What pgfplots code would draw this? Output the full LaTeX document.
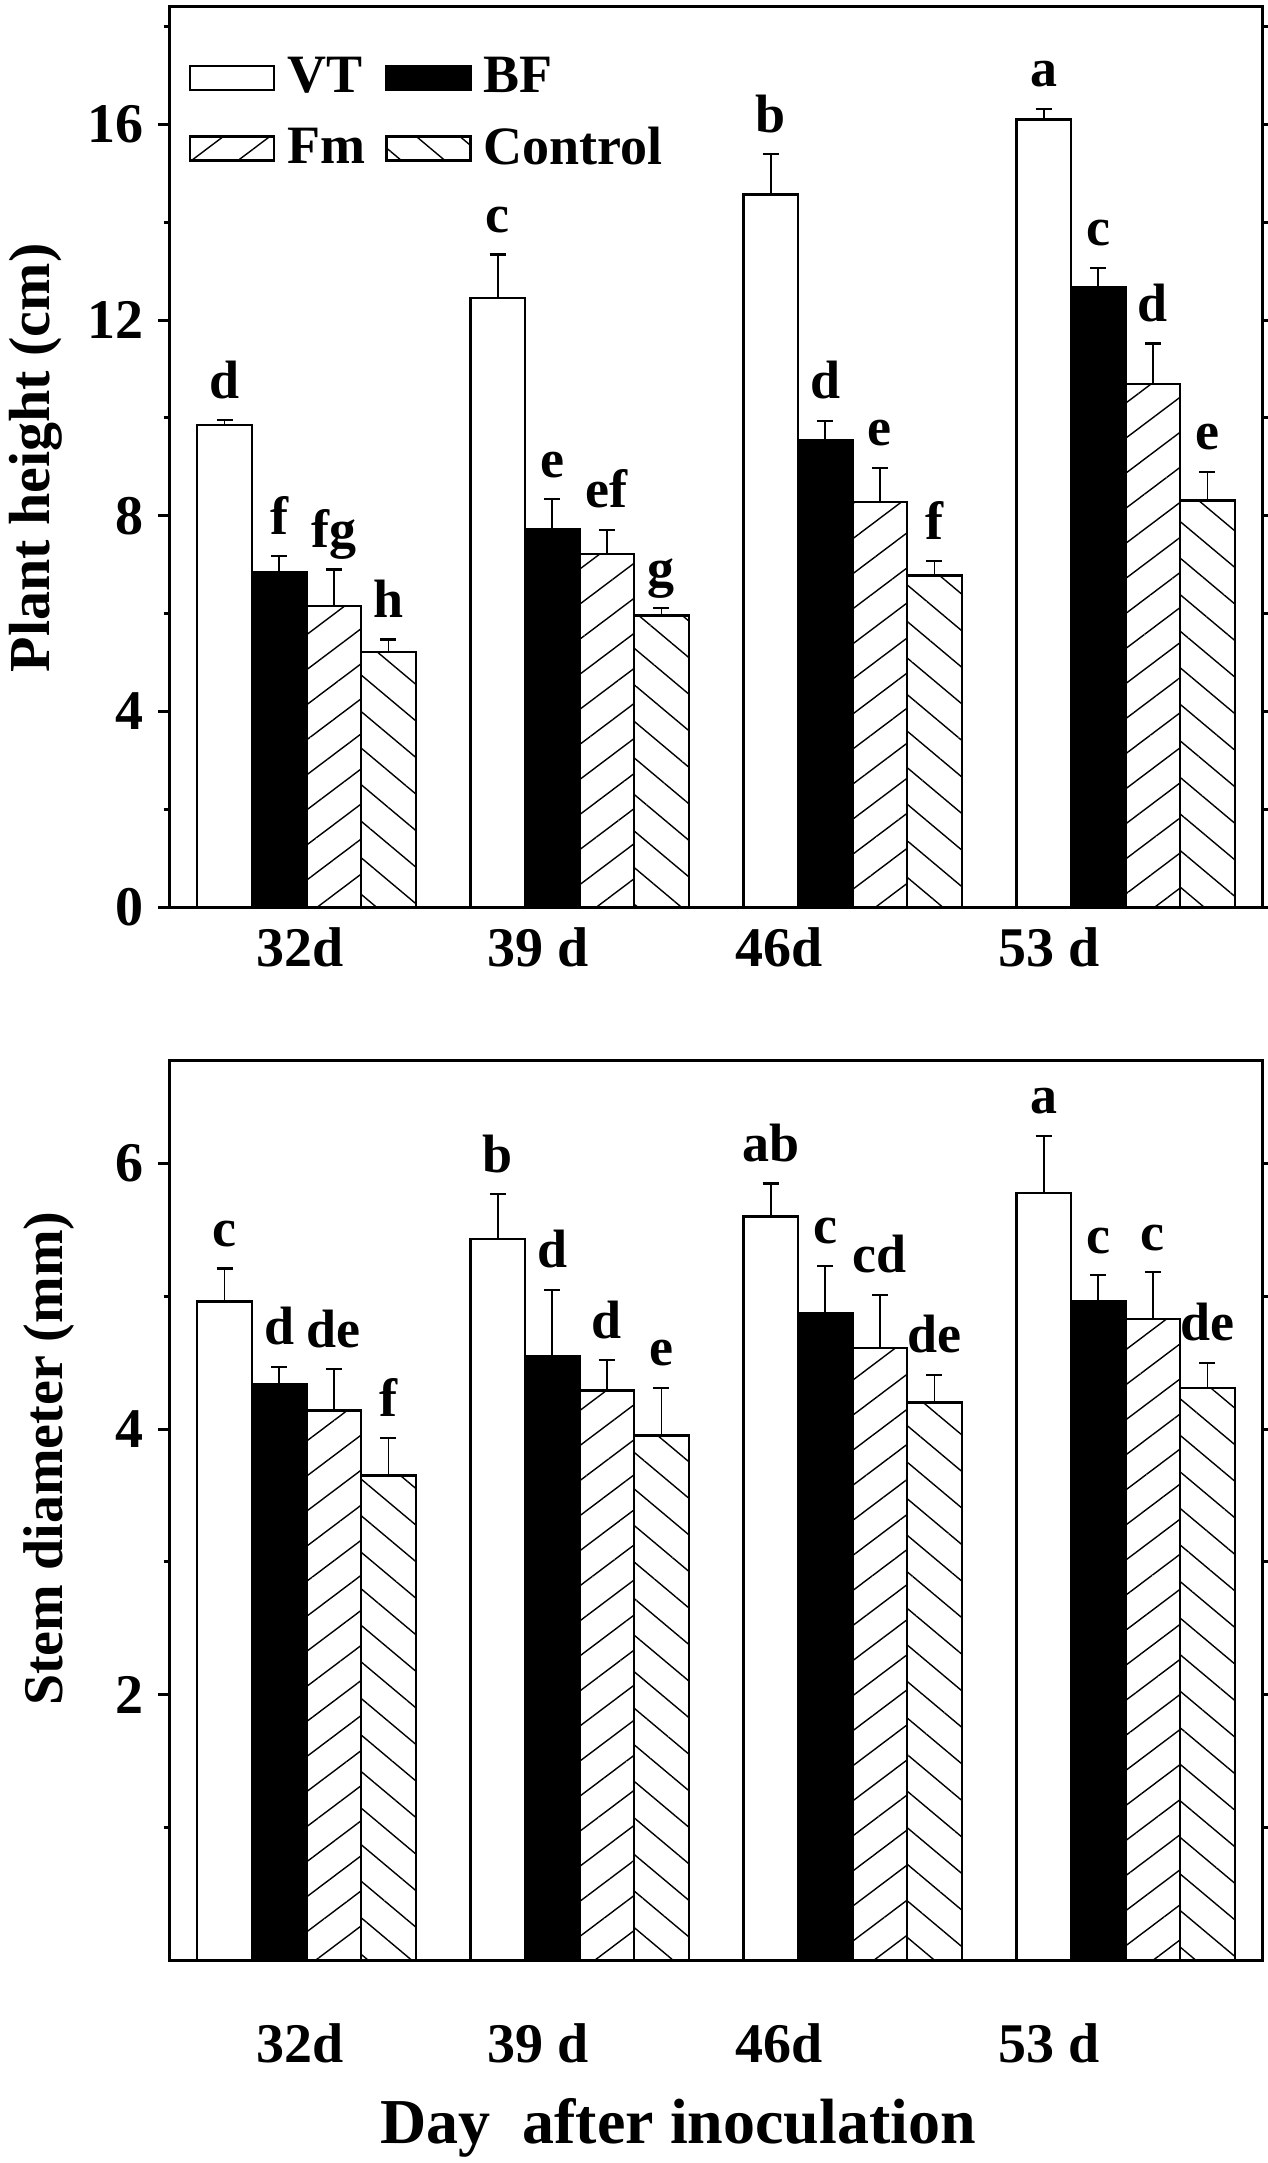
\documentclass[border=0pt]{standalone}
\usepackage{fontspec}
\setmainfont{Liberation Serif}
\usepackage{pgfplots}
\pgfplotsset{compat=1.18}
\usetikzlibrary{patterns.meta}

\tikzset{
  vtsty/.style={fill=white, draw=black, line width=0.6pt},
  bfsty/.style={fill=black, draw=black, line width=0.6pt},
  fmsty/.style={draw=black, line width=0.6pt, pattern={Lines[angle=37,distance=7pt,line width=0.35pt]}},
  ctsty/.style={draw=black, line width=0.6pt, pattern={Lines[angle=-40,distance=7pt,line width=0.35pt]}},
  lab/.style={anchor=base, yshift=5.5pt, inner sep=0pt, font=\fontsize{13.5}{14}\selectfont\bfseries},
}

\pgfplotsset{
  common/.style={
    scale only axis, width=273pt, height=225pt,
    xmin=-0.5, xmax=3.5, ymin=0,
    clip=false,
    ybar=0pt, bar width=0.2,
    axis line style={line width=0.75pt},
    tick style={line width=0.75pt, black},
    tick align=outside,
    major tick length=3pt, minor tick length=1.6pt,
    ytick pos=both, yticklabel pos=left,
    xtick=\empty,
    extra x ticks={-0.024,0.85,1.73,2.72},
    extra x tick labels={32d,39 d,46d,53 d},
    /pgf/number format/assume math mode=true,
    tick label style={font=\fontsize{14}{14}\selectfont\bfseries},
    xlabel style={font=\fontsize{16}{16}\selectfont\bfseries, at={(axis description cs:0.192,-0.2044)}, anchor=base west, inner sep=0pt},
    every axis plot/.append style={
      error bars/y dir=plus, error bars/y explicit,
      error bars/error bar style={line width=0.45pt, black},
      error bars/error mark options={rotate=90, mark size=2pt, line width=0.55pt, black},
    },
  },
}

\begin{document}
\begin{tikzpicture}
\useasboundingbox (-42.5pt,-314pt) rectangle (274.25pt,226.75pt);

% ---------------- Top: plant height ----------------
\begin{axis}[common,
  at={(0pt,0pt)}, anchor=south west,
  ymax=18.4,
  ytick={0,4,8,12,16}, minor ytick={2,6,10,14,18},
  ylabel={Plant height (cm)},
  ylabel style={font=\fontsize{14.5}{14.5}\selectfont\bfseries, at={(axis description cs:-0.1227,0.499)}, anchor=center},
  extra x tick style={major tick length=0pt, xticklabel style={anchor=base, yshift=-14.75pt}},
  legend columns=2,
  legend cell align=left,
  legend image code/.code={\draw[#1] (0pt,-3pt) rectangle (21pt,3pt);},
  legend style={draw=none, fill=none, inner sep=0pt,
    at={(axis description cs:0.0165,0.958)}, anchor=north west,
    font=\fontsize{13.5}{14}\selectfont\bfseries,
    nodes={inner sep=3pt}, row sep=1pt,
    /tikz/every even column/.append style={column sep=2pt}},
]
\addplot[vtsty] coordinates {(0,9.86) +- (0,0.09) (1,12.45) +- (0,0.89) (2,14.57) +- (0,0.82) (3,16.10) +- (0,0.22)};
\addplot[bfsty] coordinates {(0,6.85) +- (0,0.32) (1,7.73) +- (0,0.61) (2,9.54) +- (0,0.40) (3,12.67) +- (0,0.40)};
\addplot[fmsty] coordinates {(0,6.15) +- (0,0.75) (1,7.22) +- (0,0.49) (2,8.28) +- (0,0.70) (3,10.69) +- (0,0.83)};
\addplot[ctsty] coordinates {(0,5.21) +- (0,0.26) (1,5.96) +- (0,0.15) (2,6.78) +- (0,0.29) (3,8.31) +- (0,0.59)};
\legend{VT,BF,Fm,Control}
% letters
\node[lab] at (axis cs:-0.3,9.95) {d};
\node[lab] at (axis cs:-0.1,7.17) {f};
\node[lab] at (axis cs:0.1,6.90) {fg};
\node[lab] at (axis cs:0.3,5.47) {h};
\node[lab] at (axis cs:0.7,13.34) {c};
\node[lab] at (axis cs:0.9,8.34) {e};
\node[lab] at (axis cs:1.1,7.71) {ef};
\node[lab] at (axis cs:1.3,6.11) {g};
\node[lab] at (axis cs:1.7,15.39) {b};
\node[lab] at (axis cs:1.9,9.94) {d};
\node[lab] at (axis cs:2.1,8.98) {e};
\node[lab] at (axis cs:2.3,7.07) {f};
\node[lab] at (axis cs:2.7,16.32) {a};
\node[lab] at (axis cs:2.9,13.07) {c};
\node[lab] at (axis cs:3.1,11.52) {d};
\node[lab] at (axis cs:3.3,8.90) {e};
\end{axis}

% ---------------- Bottom: stem diameter ----------------
\begin{axis}[common,
  at={(0pt,-38.25pt)}, anchor=north west,
  ymax=6.78,
  ytick={2,4,6}, minor ytick={1,3,5},
  ylabel={Stem diameter (mm)},
  ylabel style={font=\fontsize{14}{14}\selectfont\bfseries, at={(axis description cs:-0.111,0.557)}, anchor=center},
  xlabel={Day\ \ after inoculation},
  extra x tick style={major tick length=0pt, xticklabel style={anchor=base, yshift=-25.5pt}},
]
\addplot[vtsty] coordinates {(0,4.96) +- (0,0.25) (1,5.43) +- (0,0.34) (2,5.60) +- (0,0.25) (3,5.78) +- (0,0.43)};
\addplot[bfsty] coordinates {(0,4.34) +- (0,0.13) (1,4.55) +- (0,0.50) (2,4.87) +- (0,0.36) (3,4.96) +- (0,0.20)};
\addplot[fmsty] coordinates {(0,4.14) +- (0,0.31) (1,4.29) +- (0,0.23) (2,4.61) +- (0,0.40) (3,4.83) +- (0,0.35)};
\addplot[ctsty] coordinates {(0,3.65) +- (0,0.28) (1,3.95) +- (0,0.36) (2,4.20) +- (0,0.21) (3,4.31) +- (0,0.19)};
\node[lab] at (axis cs:-0.3,5.21) {c};
\node[lab] at (axis cs:-0.1,4.47) {d};
\node[lab] at (axis cs:0.1,4.45) {de};
\node[lab] at (axis cs:0.3,3.93) {f};
\node[lab] at (axis cs:0.7,5.77) {b};
\node[lab] at (axis cs:0.9,5.05) {d};
\node[lab] at (axis cs:1.1,4.52) {d};
\node[lab] at (axis cs:1.3,4.31) {e};
\node[lab] at (axis cs:1.7,5.85) {ab};
\node[lab] at (axis cs:1.9,5.23) {c};
\node[lab] at (axis cs:2.1,5.01) {cd};
\node[lab] at (axis cs:2.3,4.41) {de};
\node[lab] at (axis cs:2.7,6.21) {a};
\node[lab] at (axis cs:2.9,5.16) {c};
\node[lab] at (axis cs:3.1,5.18) {c};
\node[lab] at (axis cs:3.3,4.50) {de};
\end{axis}
\end{tikzpicture}
\end{document}
